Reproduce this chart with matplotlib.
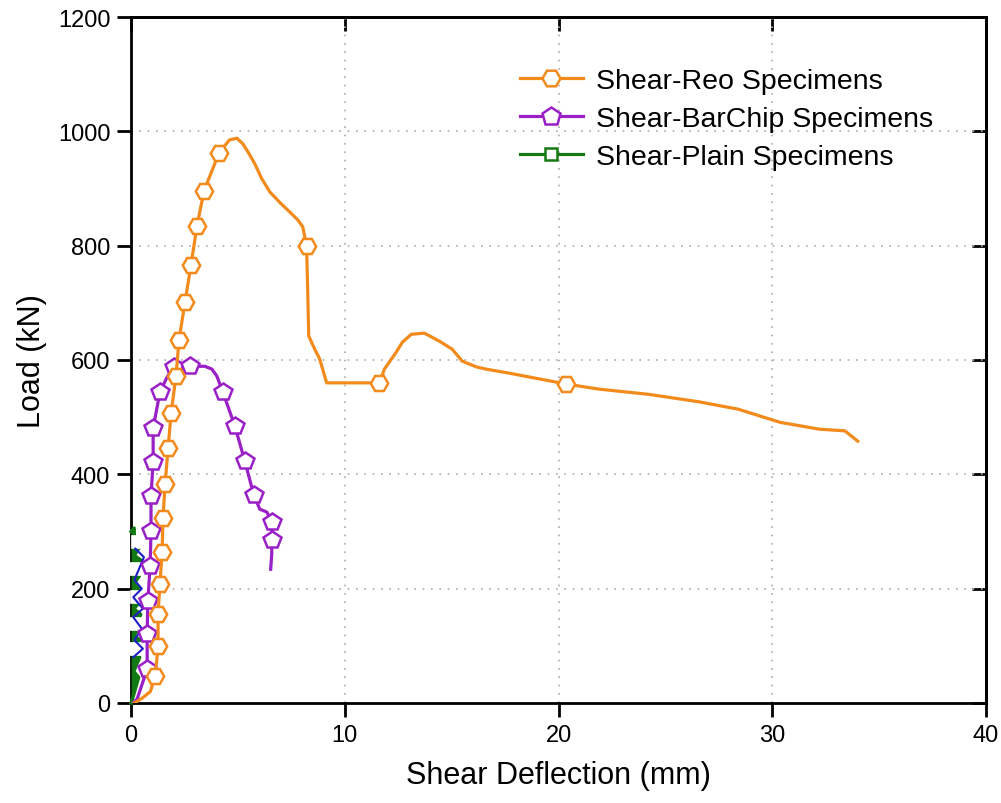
import numpy as np
import matplotlib.pyplot as plt

plt.rcParams['font.family'] = ['Liberation Sans', 'DejaVu Sans']

# Shear-Reo specimens
reo_x = [0.15, 0.5, 0.9, 1.12, 1.20, 1.26, 1.26, 1.35, 1.45, 1.49, 1.59, 1.73, 1.87, 2.10,
         2.24, 2.52, 2.80, 3.08, 3.41, 4.11, 4.60, 4.95, 5.23, 5.50, 5.79, 6.10, 6.49,
         7.00, 7.42, 7.80, 8.03,
         8.21, 8.26, 8.31, 8.59, 8.82, 9.15, 11.62, 11.85, 12.41, 12.69, 13.11, 13.72,
         14.42, 15.02, 15.49, 16.15, 16.61, 17.69, 20.35, 21.9, 24.2, 26.55, 28.4,
         30.36, 32.2, 33.4, 33.6, 34.0]
reo_y = [0, 8, 20, 47, 75, 100, 156, 208, 264, 324, 383, 446, 507, 572,
         635, 701, 766, 834, 896, 962, 985, 988, 978, 962, 943, 918, 894,
         874, 859, 845, 833,
         799, 724, 642, 619, 602, 560, 560, 584, 614, 631, 645, 647,
         633, 619, 598, 588, 584, 577, 558, 549, 540, 527, 514,
         491, 479, 476, 470, 458]
reo_marks = [3, 5, 6, 7, 8, 9, 10, 11, 12, 13, 14, 15, 16, 17, 18, 19, 31, 37, 49]

# Shear-BarChip specimens
bar_x = [0.09, 0.28, 0.75, 0.75, 0.78, 0.89, 0.93, 0.93, 1.03, 1.03, 1.35, 1.68, 2.01,
         2.75, 3.45, 3.78, 4.01, 4.29, 4.85, 5.32, 5.74, 6.02, 6.35, 6.58, 6.58,
         6.58, 6.53]
bar_y = [0, 7, 59, 120, 178, 240, 301, 362, 422, 481, 544, 570, 588,
         589, 589, 584, 572, 544, 485, 423, 364, 339, 334, 317, 285,
         261, 234]
bar_marks = [2, 3, 4, 5, 6, 7, 8, 9, 10, 12, 13, 17, 18, 19, 20, 23, 24]

# Shear-Plain specimens
plain_x = [0.0, 0.10, 0.35, 0.12, 0.40, 0.15, 0.25, 0.42, 0.12, 0.38, 0.15, 0.25, 0.45,
           0.12, 0.38, 0.15, 0.26, 0.42, 0.12, 0.38, 0.15, 0.25, 0.45, 0.15, 0.38,
           0.30, 0.15, 0.14, 0.0]
plain_y = [0, 12, 45, 55, 80, 88, 94, 110, 118, 130, 135, 138, 155,
           165, 175, 180, 185, 200, 208, 222, 228, 234, 250, 258, 272,
           282, 290, 306, 300]
plain_marks = [6, 11, 16, 21, 25]

# extra unlabelled curve
blue_x = [0.10, 0.55, 0.15, 0.50, 0.10, 0.55, 0.10, 0.50, 0.15, 0.60, 0.20]
blue_y = [80, 95, 110, 130, 150, 165, 185, 200, 215, 255, 270]

c_reo = '#F28A1C'
c_bar = '#9A1FC6'
c_plain = '#137A13'
c_blue = '#1E1EC8'

fig = plt.figure(figsize=(10.01, 8.04), dpi=100)
ax = fig.add_axes([0.131, 0.1244, 0.854, 0.8532])

ax.fill_betweenx(plain_y, 0, plain_x, color=c_plain, lw=0, zorder=3)
ax.plot(plain_x, plain_y, color=c_plain, lw=2.5, marker='s', markevery=plain_marks,
        ms=8, mfc='white', mec='white', mew=1.2, zorder=3, clip_on=False)
ax.plot(blue_x, blue_y, color=c_blue, lw=1.5, zorder=3)
ax.plot(bar_x, bar_y, color=c_bar, lw=2.3, marker='p', markevery=bar_marks,
        ms=13, mfc='white', mec=c_bar, mew=1.8, zorder=4)
ax.plot(reo_x, reo_y, color=c_reo, lw=2.3, marker='H', markevery=reo_marks,
        ms=12.5, mfc='white', mec=c_reo, mew=1.8, zorder=5)

# legend handles
h1, = ax.plot([], [], color=c_reo, lw=2.3, marker='H', ms=13, mfc='white', mec=c_reo, mew=1.8)
h2, = ax.plot([], [], color=c_bar, lw=2.3, marker='p', ms=13.5, mfc='white', mec=c_bar, mew=1.8)
h3, = ax.plot([], [], color=c_plain, lw=2.3, marker='s', ms=9, mfc='white', mec=c_plain, mew=1.8)
ax.legend([h1, h2, h3], ['Shear-Reo Specimens', 'Shear-BarChip Specimens', 'Shear-Plain Specimens'],
          loc='upper left', bbox_to_anchor=(0.455, 0.925), frameon=False, fontsize=20.5,
          handlelength=2.2, handletextpad=0.45, labelspacing=0.42, borderpad=0, borderaxespad=0)

ax.set_xlim(0, 40)
ax.set_ylim(0, 1200)
ax.set_xticks([0, 10, 20, 30, 40])
ax.set_yticks(np.arange(0, 1201, 200))
ax.grid(True, color='#AAAAAA', linestyle=(0, (1, 4)), lw=1.2)
for s in ax.spines.values():
    s.set_linewidth(2)
ax.tick_params(axis='both', which='major', direction='out', length=10, width=2,
               labelsize=17, pad=5)

# mirror ticks pointing inward on top and right
axt = ax.secondary_xaxis('top')
axt.set_xticks([0, 10, 20, 30, 40])
axt.tick_params(direction='in', length=10, width=2, labeltop=False)
axr = ax.secondary_yaxis('right')
axr.set_yticks(np.arange(0, 1201, 200))
axr.tick_params(direction='in', length=10, width=2, labelright=False)
axt.spines['top'].set_linewidth(2)
axr.spines['right'].set_linewidth(2)

ax.set_xlabel('Shear Deflection (mm)', fontsize=22, labelpad=10)
ax.set_ylabel('Load (kN)', fontsize=22, labelpad=8)

fig.savefig('out.png', dpi=100)
